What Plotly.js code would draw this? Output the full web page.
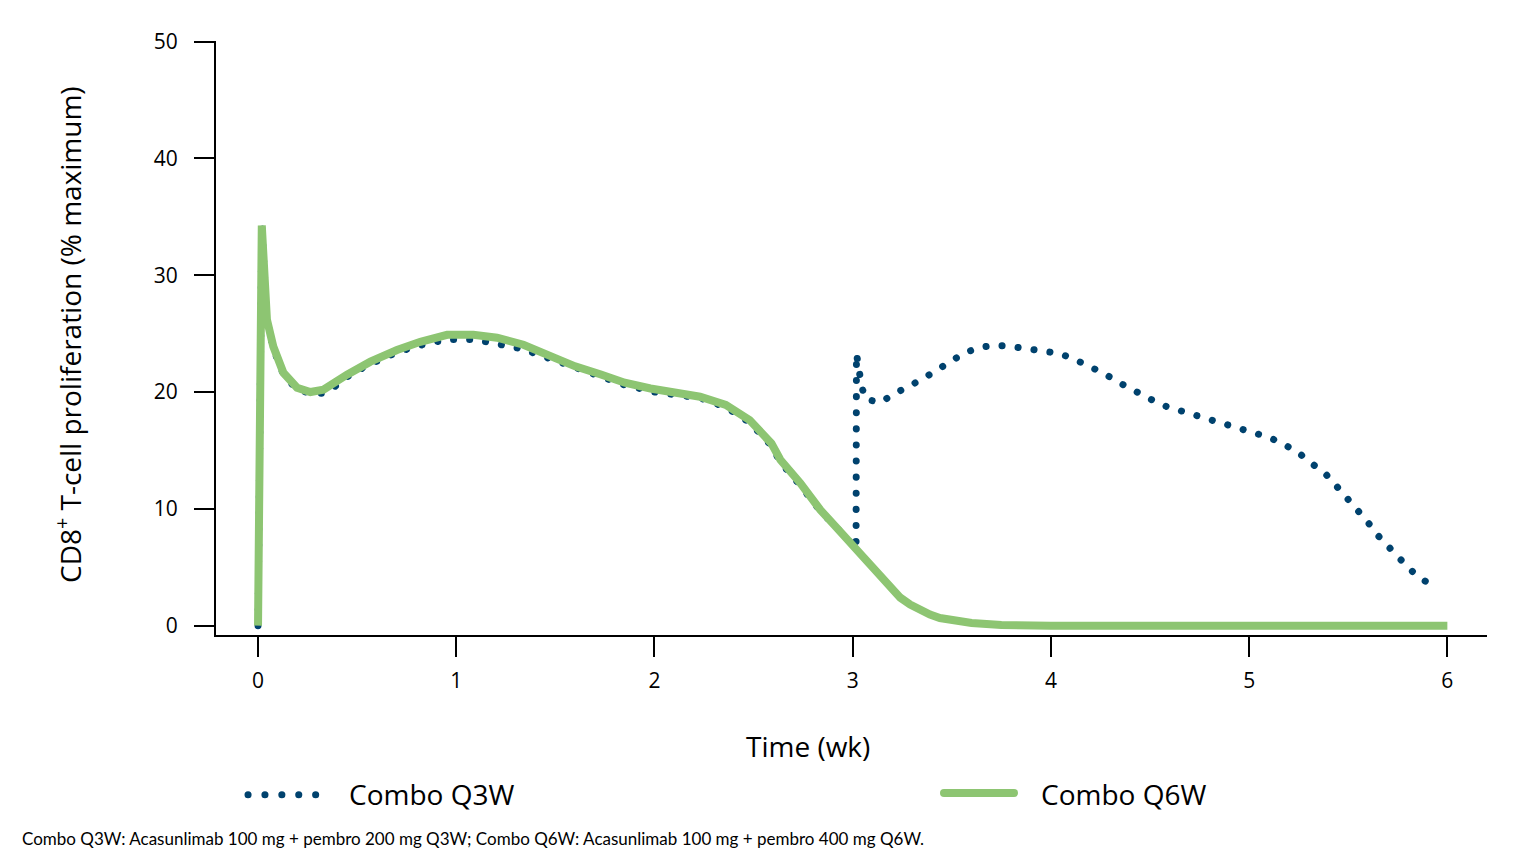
<!DOCTYPE html>
<html>
<head>
<meta charset="utf-8">
<script src="https://cdn.plot.ly/plotly-3.0.1.min.js"></script>
<style>
  html, body { margin: 0; padding: 0; background: #fff; }
  #chart { width: 1525px; height: 851px; }
  .scatterlayer .trace:first-child .js-line { stroke-linecap: round; }
  .shapelayer path { stroke-linecap: round; }
</style>
</head>
<body>
<div id="chart"></div>
<script>
// ---- Data ----
const seriesNames = ["Combo Q3W", "Combo Q6W"];

const q3wTime = [0, 0.019, 0.045, 0.077, 0.128, 0.197, 0.264, 0.33, 0.40, 0.449, 0.51, 0.567, 0.701, 0.819, 0.954, 1.004, 1.086, 1.168, 1.248, 1.33, 1.5, 1.73, 1.85, 2.0, 2.23, 2.36, 2.48, 2.59, 2.635, 2.736, 2.837, 2.913, 2.99, 3.017, 3.019, 3.03, 3.045, 3.064, 3.139, 3.205, 3.276, 3.351, 3.417, 3.488, 3.559, 3.634, 3.716, 3.8, 3.881, 3.962, 4.043, 4.119, 4.195, 4.27, 4.336, 4.412, 4.482, 4.558, 4.634, 4.709, 4.79, 4.87, 4.951, 5.027, 5.103, 5.178, 5.249, 5.314, 5.38, 5.435, 5.491, 5.541, 5.597, 5.647, 5.702, 5.758, 5.814, 5.879, 5.945];
const q3wValue = [0, 34.2, 26.1, 23.7, 21.5, 20.2, 19.9, 19.9, 20.6, 21.3, 21.9, 22.4, 23.4, 24.0, 24.5, 24.54, 24.5, 24.25, 24.0, 23.7, 22.7, 21.3, 20.6, 20.0, 19.5, 18.7, 17.4, 15.4, 14.0, 12.0, 9.8, 8.5, 7.1, 6.6, 23.3, 21.9, 20.5, 19.4, 19.1, 19.8, 20.4, 21.1, 21.8, 22.6, 23.3, 23.8, 24.0, 23.9, 23.7, 23.5, 23.3, 22.8, 22.25, 21.57, 20.88, 20.2, 19.5, 18.9, 18.5, 18.05, 17.7, 17.3, 16.9, 16.6, 16.1, 15.5, 14.8, 13.9, 13.1, 12.06, 11.03, 9.92, 8.9, 7.77, 6.75, 5.72, 4.77, 3.92, 3.15];

const q6wTime = [0, 0.019, 0.045, 0.077, 0.128, 0.197, 0.264, 0.33, 0.449, 0.567, 0.701, 0.819, 0.954, 1.086, 1.206, 1.339, 1.5, 1.6, 1.73, 1.85, 1.98, 2.1, 2.23, 2.36, 2.48, 2.59, 2.635, 2.736, 2.837, 2.913, 2.988, 3.074, 3.139, 3.19, 3.24, 3.29, 3.34, 3.39, 3.44, 3.52, 3.6, 3.75, 4.0, 5.0, 6.0];
const q6wValue = [0, 34.25, 26.2, 23.9, 21.65, 20.37, 20.0, 20.2, 21.48, 22.6, 23.6, 24.3, 24.9, 24.9, 24.65, 24.05, 22.9, 22.2, 21.5, 20.8, 20.3, 19.9, 19.6, 18.9, 17.6, 15.6, 14.2, 12.2, 9.9, 8.5, 7.1, 5.4, 4.1, 3.2, 2.4, 1.8, 1.3, 0.95, 0.65, 0.4, 0.23, 0.06, 0, 0, 0];

const xTicks = [0, 1, 2, 3, 4, 5, 6];
const yTicks = [0, 10, 20, 30, 40, 50];

const xTitle = "Time (wk)";
const yTitle = "CD8<sup>+</sup> T-cell proliferation (% maximum)";
const footnote = "Combo Q3W: Acasunlimab 100 mg + pembro 200 mg Q3W; Combo Q6W: Acasunlimab 100 mg + pembro 400 mg Q6W.";

// ---- Styles ----
const navy = "#00426e";
const green = "#8dc572";
const font = "'Open Sans', 'Noto Sans', sans-serif";

const traces = [
  {
    x: q3wTime, y: q3wValue, name: seriesNames[0], type: "scatter", mode: "lines",
    line: { color: navy, width: 7, dash: "0.1px,16px" }, showlegend: false, hoverinfo: "x+y"
  },
  {
    x: q6wTime, y: q6wValue, name: seriesNames[1], type: "scatter", mode: "lines",
    line: { color: green, width: 8 }, showlegend: false, hoverinfo: "x+y"
  }
];

const axisCommon = {
  showline: true, linecolor: "#000", linewidth: 2, mirror: false,
  ticks: "outside", ticklen: 20, tickwidth: 2, tickcolor: "#000",
  showgrid: false, zeroline: false,
  tickfont: { family: font, size: 21, color: "#000" }
};

const layout = {
  width: 1525, height: 851,
  margin: { l: 216, r: 38, t: 41, b: 216, pad: 0 },
  paper_bgcolor: "#fff", plot_bgcolor: "#fff",
  showlegend: false,
  font: { family: font, color: "#000" },
  xaxis: Object.assign({}, axisCommon, {
    range: [-0.212, 6.2], tickmode: "array", tickvals: xTicks, ticktext: xTicks.map(String),
    ticklabelstandoff: 6
  }),
  yaxis: Object.assign({}, axisCommon, {
    range: [-0.8, 50.05], tickmode: "array", tickvals: yTicks, ticktext: yTicks.map(String),
    ticklabelstandoff: 12
  }),
  shapes: [
    { type: "line", xref: "paper", yref: "paper", x0: (248 - 216) / 1271, x1: (317 - 216) / 1271,
      y0: -0.269, y1: -0.269, line: { color: navy, width: 7, dash: "0.1px,16.8px" } },
    { type: "line", xref: "paper", yref: "paper", x0: (944 - 216) / 1271, x1: (1014 - 216) / 1271,
      y0: -0.266, y1: -0.266, line: { color: green, width: 8 } }
  ],
  annotations: [
    { text: seriesNames[0], xref: "paper", yref: "paper", x: (347 - 216) / 1271, y: -0.268,
      xanchor: "left", yanchor: "middle", showarrow: false, font: { family: font, size: 28, color: "#000" } },
    { text: seriesNames[1], xref: "paper", yref: "paper", x: (1039 - 216) / 1271, y: -0.268,
      xanchor: "left", yanchor: "middle", showarrow: false, font: { family: font, size: 28, color: "#000" } },
    { text: xTitle, xref: "paper", yref: "paper", x: (808 - 216) / 1271, y: (635 - 746) / 594,
      xanchor: "center", yanchor: "middle", showarrow: false, font: { family: font, size: 28, color: "#000" } },
    { text: yTitle, xref: "paper", yref: "paper", x: (68 - 216) / 1271, y: (635 - 335) / 594,
      xanchor: "center", yanchor: "middle", textangle: -90, showarrow: false, font: { family: font, size: 28, color: "#000" } },
    { text: footnote, xref: "paper", yref: "paper", x: (20 - 216) / 1271, y: (635 - 838) / 594,
      xanchor: "left", yanchor: "middle", showarrow: false, font: { family: "Lato, 'Open Sans', sans-serif", size: 17, color: "#000" } }
  ]
};

Plotly.newPlot("chart", traces, layout, { staticPlot: true, displayModeBar: false });
</script>
</body>
</html>
